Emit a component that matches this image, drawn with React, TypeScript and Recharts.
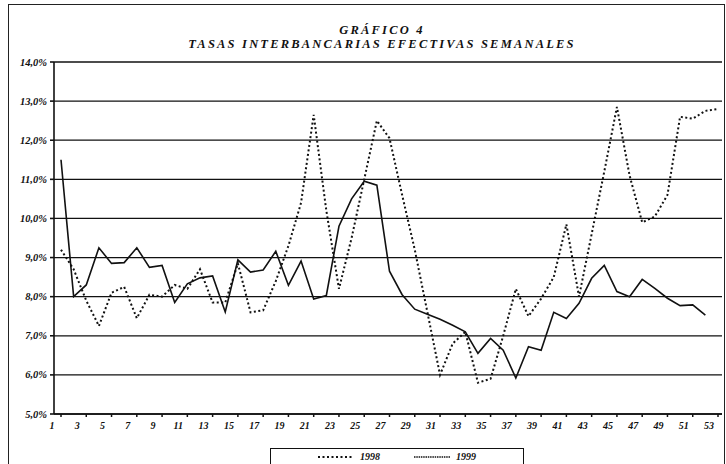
import { LineChart, Line, XAxis, YAxis, CartesianGrid, Legend } from 'recharts';

const weeks = [
  '1', '2', '3', '4', '5', '6', '7', '8', '9', '10',
  '11', '12', '13', '14', '15', '16', '17', '18', '19', '20',
  '21', '22', '23', '24', '25', '26', '27', '28', '29', '30',
  '31', '32', '33', '34', '35', '36', '37', '38', '39', '40',
  '41', '42', '43', '44', '45', '46', '47', '48', '49', '50',
  '51', '52', '53',
];

const rates1998 = [
  9.2, 8.7, 7.9, 7.25, 8.1, 8.25, 7.45, 8.05, 8.0, 8.3,
  8.2, 8.7, 7.85, 7.85, 8.85, 7.6, 7.65, 8.4, 9.3, 10.4,
  12.65, 10.2, 8.2, 9.5, 11.0, 12.5, 12.05, 10.6, 9.2, 7.6,
  6.0, 6.8, 7.1, 5.8, 5.9, 7.0, 8.2, 7.5, 7.95, 8.5,
  9.85, 8.0, 9.6, 11.2, 12.85, 11.1, 9.9, 10.05, 10.6, 12.6,
  12.55, 12.75, 12.8,
];

const rates1999 = [
  11.5, 8.0, 8.3, 9.25, 8.85, 8.87, 9.25, 8.75, 8.8, 7.85,
  8.33, 8.48, 8.53, 7.61, 8.94, 8.63, 8.68, 9.16, 8.29, 8.91,
  7.94, 8.03, 9.8, 10.5, 10.95, 10.85, 8.65, 8.05, 7.68, 7.55,
  7.42, 7.27, 7.1, 6.55, 6.93, 6.63, 5.92, 6.72, 6.63, 7.6,
  7.44, 7.83, 8.47, 8.8, 8.13, 8.0, 8.44, 8.21, 7.96, 7.77,
  7.79, 7.53, null,
];

const yTicks = [5, 6, 7, 8, 9, 10, 11, 12, 13, 14];

const data = weeks.map((w, i) => ({ week: w, y1998: rates1998[i], y1999: rates1999[i] }));

const FONT = '"Liberation Serif", "Times New Roman", serif';

const XTick = ({ x, y, payload }: any) => (
  <text x={x - 9} y={y + 10} textAnchor="middle" fontFamily={FONT} fontWeight="bold"
    fontStyle="italic" fontSize={10} fill="#111">
    {payload.value}
  </text>
);

const YTick = ({ x, y, payload }: any) => (
  <text x={x - 1} y={y + 3.5} textAnchor="end" fontFamily={FONT} fontWeight="bold"
    fontStyle="italic" fontSize={10.5} fill="#111">
    {payload.value.toFixed(1).replace('.', ',') + '%'}
  </text>
);

function LegendBox() {
  return (
    <div style={{
      width: 252, height: 15, border: '1.2px solid #111', borderBottom: 'none',
      display: 'flex', alignItems: 'center', justifyContent: 'center', gap: 34,
      fontFamily: FONT, fontWeight: 'bold', fontStyle: 'italic', fontSize: 10, color: '#111',
    }}>
      <span style={{ display: 'flex', alignItems: 'center', gap: 6 }}>
        <svg width={36} height={6}>
          <line x1={0} y1={3} x2={36} y2={3} stroke="#111" strokeWidth={2} strokeDasharray="2 2.5" />
        </svg>
        1998
      </span>
      <span style={{ display: 'flex', alignItems: 'center', gap: 6 }}>
        <svg width={36} height={6}>
          <line x1={0} y1={3} x2={36} y2={3} stroke="#111" strokeWidth={1.5} strokeDasharray="1.5 0.8" />
        </svg>
        1999
      </span>
    </div>
  );
}

export default function App() {
  return (
    <div style={{ position: 'absolute', left: 0, top: 0, width: 726, height: 464, background: '#fff', overflow: 'hidden' }}>
      <div style={{
        position: 'absolute', left: 8, top: 4, width: 715, height: 470,
        borderTop: '1.5px solid #222', borderLeft: '1.5px solid #222', borderRight: '1.5px solid #222',
      }} />
      <div style={{
        position: 'absolute', left: 132, width: 500, top: 23, textAlign: 'center',
        fontFamily: FONT, fontWeight: 'bold', fontStyle: 'italic', fontSize: 12.5, lineHeight: '14px',
        letterSpacing: 2.2, color: '#111',
      }}>
        <div>GRÁFICO 4</div>
        <div>TASAS INTERBANCARIAS EFECTIVAS SEMANALES</div>
      </div>
      <LineChart width={726} height={464} data={data} margin={{ top: 62, right: 4, left: 0, bottom: 0 }}>
        <CartesianGrid horizontal vertical={false} stroke="#111" strokeWidth={1.3} />
        <XAxis
          dataKey="week"
          interval={1}
          height={50}
          padding={{ left: 7, right: 4 }}
          stroke="#111"
          strokeWidth={1.5}
          tickSize={3}
          tick={<XTick />}
        />
        <YAxis
          domain={[5, 14]}
          ticks={yTicks}
          width={54}
          stroke="#111"
          strokeWidth={1.6}
          tickSize={4}
          tick={<YTick />}
        />
        <Legend
          layout="horizontal"
          verticalAlign="middle"
          align="center"
          wrapperStyle={{ left: 270, top: 448, width: 256 }}
          content={() => <LegendBox />}
        />
        <Line
          type="linear"
          dataKey="y1998"
          name="1998"
          stroke="#111"
          strokeWidth={2}
          strokeDasharray="2 2.5"
          dot={false}
          isAnimationActive={false}
        />
        <Line
          type="linear"
          dataKey="y1999"
          name="1999"
          stroke="#111"
          strokeWidth={1.6}
          dot={false}
          isAnimationActive={false}
        />
      </LineChart>
    </div>
  );
}
